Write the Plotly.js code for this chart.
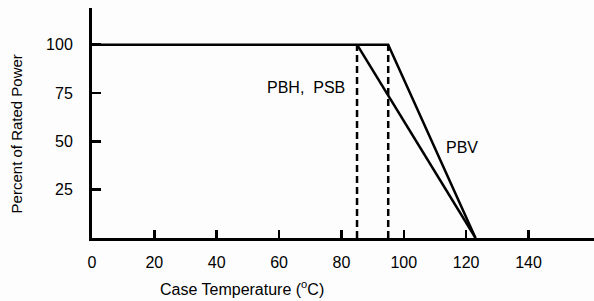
<!DOCTYPE html>
<html>
<head>
<meta charset="utf-8">
<script src="https://cdn.plot.ly/plotly-3.0.1.min.js"></script>
<style>html,body{margin:0;padding:0;background:#fdfdfd;}#chart{width:594px;height:301px;}</style>
</head>
<body>
<div id="chart"></div>
<script>
// Derating curve data
const pbvTemp = [0, 95, 123];
const pbvPower = [100, 100, 0];
const pbhTemp = [85, 123];
const pbhPower = [100, 0];
const dashTempA = [85, 85];
const dashTempB = [95, 95];
const dashPower = [0, 100];
const xTicks = [0, 20, 40, 60, 80, 100, 120, 140];
const xTickLabels = ['0', '20', '40', '60', '80', '100', '120', '140'];
const yTicks = [25, 50, 75, 100];
const yTickLabels = ['25', '50', '75', '100'];
const seriesLabels = [
  {text: 'PBH,  PSB', x: 81.8, y: 78, anchor: 'right'},
  {text: 'PBV', x: 112.9, y: 47, anchor: 'left'}
];
const xTitle = 'Case Temperature (<sup>o</sup>C)';
const yTitle = 'Percent of Rated Power';

const solid = {color: '#000', width: 2.5};
const dashed = {color: '#000', width: 2.5, dash: '7px,4px'};

const traces = [
  {x: dashTempA, y: dashPower, mode: 'lines', line: dashed, hoverinfo: 'skip'},
  {x: dashTempB, y: dashPower, mode: 'lines', line: dashed, hoverinfo: 'skip'},
  {x: pbvTemp, y: pbvPower, mode: 'lines', line: solid},
  {x: pbhTemp, y: pbhPower, mode: 'lines', line: solid}
];

const annotations = seriesLabels.map(l => ({
  text: l.text, x: l.x, y: l.y, xref: 'x', yref: 'y',
  showarrow: false, xanchor: l.anchor, yanchor: 'middle', font: {size: 16}
}));
annotations.push({
  text: xTitle, xref: 'paper', yref: 'paper', x: 0.2998, y: -0.217,
  xanchor: 'center', yanchor: 'middle', showarrow: false, font: {size: 16}
});
annotations.push({
  text: yTitle, xref: 'paper', yref: 'paper', x: -0.1514, y: 0.4548,
  xanchor: 'center', yanchor: 'middle', textangle: -90, showarrow: false, font: {size: 15}
});

const layout = {
  width: 594, height: 301,
  margin: {l: 92, r: 0, t: 8, b: 63},
  paper_bgcolor: '#fdfdfd', plot_bgcolor: '#fdfdfd',
  showlegend: false,
  font: {family: 'Liberation Sans, Arial, sans-serif', color: '#000', size: 16},
  xaxis: {
    range: [0, 161], showgrid: false, zeroline: false,
    showline: true, linecolor: '#000', linewidth: 3,
    tickmode: 'array', tickvals: xTicks, ticktext: xTickLabels,
    ticks: 'inside', ticklen: 8, tickwidth: 2.5, tickcolor: '#000',
    tickfont: {size: 16}, ticklabelstandoff: 8
  },
  yaxis: {
    range: [0, 119], showgrid: false, zeroline: false,
    showline: true, linecolor: '#000', linewidth: 3,
    tickmode: 'array', tickvals: yTicks, ticktext: yTickLabels,
    ticks: 'inside', ticklen: 9, tickwidth: 2.5, tickcolor: '#000',
    tickfont: {size: 16}, ticklabelstandoff: 13
  },
  annotations: annotations
};

Plotly.newPlot('chart', traces, layout, {staticPlot: true});
</script>
</body>
</html>
